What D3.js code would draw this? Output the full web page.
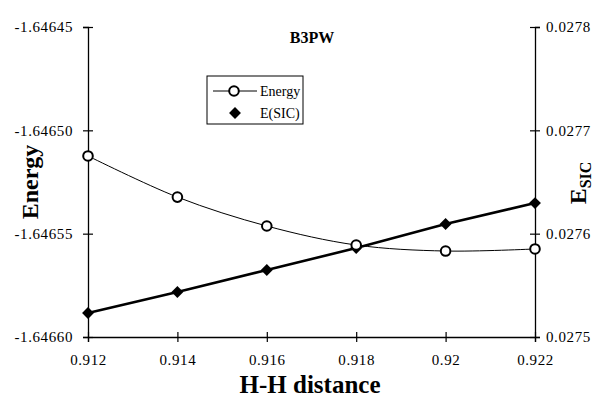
<html>
  <head>
    <style>
      body { margin: 0; background: #fff; }
      text { font-family: "Liberation Serif", "Times New Roman", serif; fill: #000; }
    </style>
  </head>
  <body>
    <svg id="chart" width=598 height=404></svg>
    <script type="text/javascript" src="https://cdnjs.cloudflare.com/ajax/libs/d3/7.8.5/d3.min.js"></script>
    <script type="text/javascript">
// H-H distance values
var distance = [0.912, 0.914, 0.916, 0.918, 0.920, 0.922];
// total energy (left axis)
var energy = [-1.6465124, -1.6465323, -1.6465463, -1.6465555, -1.6465584, -1.6465574];
// E(SIC) (right axis)
var esic = [0.0275232, 0.0275435, 0.0275648, 0.0275861, 0.0276093, 0.0276296];

var xTicks = [0.912, 0.914, 0.916, 0.918, 0.920, 0.922];
var xTickLabels = ['0.912', '0.914', '0.916', '0.918', '0.92', '0.922'];
var yTicks = [-1.64645, -1.64650, -1.64655, -1.64660];
var yTickLabels = ['-1.64645', '-1.64650', '-1.64655', '-1.64660'];
var y2Ticks = [0.0278, 0.0277, 0.0276, 0.0275];
var y2TickLabels = ['0.0278', '0.0277', '0.0276', '0.0275'];

var serif = 'Liberation Serif';
var margin = {top: 27, right: 63, bottom: 67, left: 88};
var width = 598 - margin.left - margin.right;
var height = 404 - margin.top - margin.bottom;

var svg = d3.select('#chart');
var g = svg.append('g').attr('transform', 'translate(' + margin.left + ',' + margin.top + ')');

var x = d3.scaleLinear().domain([0.912, 0.922]).range([0, width]);
var y = d3.scaleLinear().domain([-1.64660, -1.64645]).range([height, 0]);
var y2 = d3.scaleLinear().domain([0.0275, 0.0278]).range([height, 0]);

function styleAxis(sel) {
  sel.attr('font-family', serif).attr('font-size', 15);
  sel.select('.domain').attr('stroke', '#000').attr('stroke-width', 1.3);
  sel.selectAll('.tick line').attr('stroke', '#000').attr('stroke-width', 1.2);
  sel.selectAll('.tick text').attr('font-family', serif).style('font-size', '15px').style('letter-spacing', '0.6px');
}

// x axis, ticks crossing the line
var xAxis = g.append('g').attr('transform', 'translate(0,' + height + ')')
  .call(d3.axisBottom(x).tickValues(xTicks).tickSizeOuter(0).tickSize(5).tickPadding(12)
    .tickFormat(function(d, i) { return xTickLabels[i]; }));
xAxis.selectAll('.tick line').attr('y1', -5);
styleAxis(xAxis);

var yAxis = g.append('g')
  .call(d3.axisLeft(y).tickValues(yTicks).tickSizeOuter(0).tickSize(5).tickPadding(10)
    .tickFormat(function(d, i) { return yTickLabels[i]; }));
yAxis.selectAll('.tick line').attr('x1', 5);
styleAxis(yAxis);

var y2Axis = g.append('g').attr('transform', 'translate(' + width + ',0)')
  .call(d3.axisRight(y2).tickValues(y2Ticks).tickSizeOuter(0).tickSize(5).tickPadding(6)
    .tickFormat(function(d, i) { return y2TickLabels[i]; }));
y2Axis.selectAll('.tick line').attr('x1', -5);
styleAxis(y2Axis);

// Energy: smoothed thin line with open circles
var energyLine = d3.line()
  .x(function(d, i) { return x(distance[i]); })
  .y(function(d) { return y(d); })
  .curve(d3.curveCatmullRom.alpha(0.5));
g.append('path').datum(energy)
  .attr('d', energyLine)
  .attr('fill', 'none').attr('stroke', '#000').attr('stroke-width', 1);

// E(SIC): thick straight line with diamonds
var esicLine = d3.line()
  .x(function(d, i) { return x(distance[i]); })
  .y(function(d) { return y2(d); });
g.append('path').datum(esic)
  .attr('d', esicLine)
  .attr('fill', 'none').attr('stroke', '#000').attr('stroke-width', 2.6);

var diamond = d3.symbol().type(d3.symbolDiamond2).size(90);
g.selectAll('.esic-pt').data(esic).enter().append('path')
  .attr('class', 'esic-pt')
  .attr('transform', function(d, i) { return 'translate(' + x(distance[i]) + ',' + y2(d) + ')'; })
  .attr('d', diamond).attr('fill', '#000');

g.selectAll('.energy-pt').data(energy).enter().append('circle')
  .attr('class', 'energy-pt')
  .attr('cx', function(d, i) { return x(distance[i]); })
  .attr('cy', function(d) { return y(d); })
  .attr('r', 4.8)
  .attr('fill', '#fff').attr('stroke', '#000').attr('stroke-width', 2);

// titles
svg.append('text').attr('x', 312).attr('y', 43).attr('text-anchor', 'middle')
  .style('font-size', '16px').style('font-weight', 'bold').text('B3PW');

svg.append('text').attr('x', 310).attr('y', 393).attr('text-anchor', 'middle')
  .style('font-size', '25px').style('font-weight', 'bold').text('H-H distance');

svg.append('text').attr('transform', 'translate(38,182) rotate(-90)').attr('text-anchor', 'middle')
  .style('font-size', '24px').style('font-weight', 'bold').text('Energy');

var esicTitle = svg.append('text').attr('transform', 'translate(586,183) rotate(-90)')
  .attr('text-anchor', 'middle').style('font-weight', 'bold');
esicTitle.append('tspan').style('font-size', '24px').text('E');
esicTitle.append('tspan').style('font-size', '16px').attr('dy', 5).text('SIC');

// legend
var leg = svg.append('g').attr('transform', 'translate(207,76)');
leg.append('rect').attr('width', 96).attr('height', 48)
  .attr('fill', '#fff').attr('stroke', '#000').attr('stroke-width', 1);
leg.append('line').attr('x1', 6).attr('x2', 50).attr('y1', 15).attr('y2', 15)
  .attr('stroke', '#000').attr('stroke-width', 1);
leg.append('circle').attr('cx', 27).attr('cy', 15).attr('r', 4.8)
  .attr('fill', '#fff').attr('stroke', '#000').attr('stroke-width', 2);
leg.append('text').attr('x', 53).attr('y', 20).style('font-size', '14px').text('Energy');
leg.append('path').attr('transform', 'translate(28,37)').attr('d', diamond).attr('fill', '#000');
leg.append('text').attr('x', 53).attr('y', 42).style('font-size', '14px').text('E(SIC)');
    </script>
  </body>
</html>
